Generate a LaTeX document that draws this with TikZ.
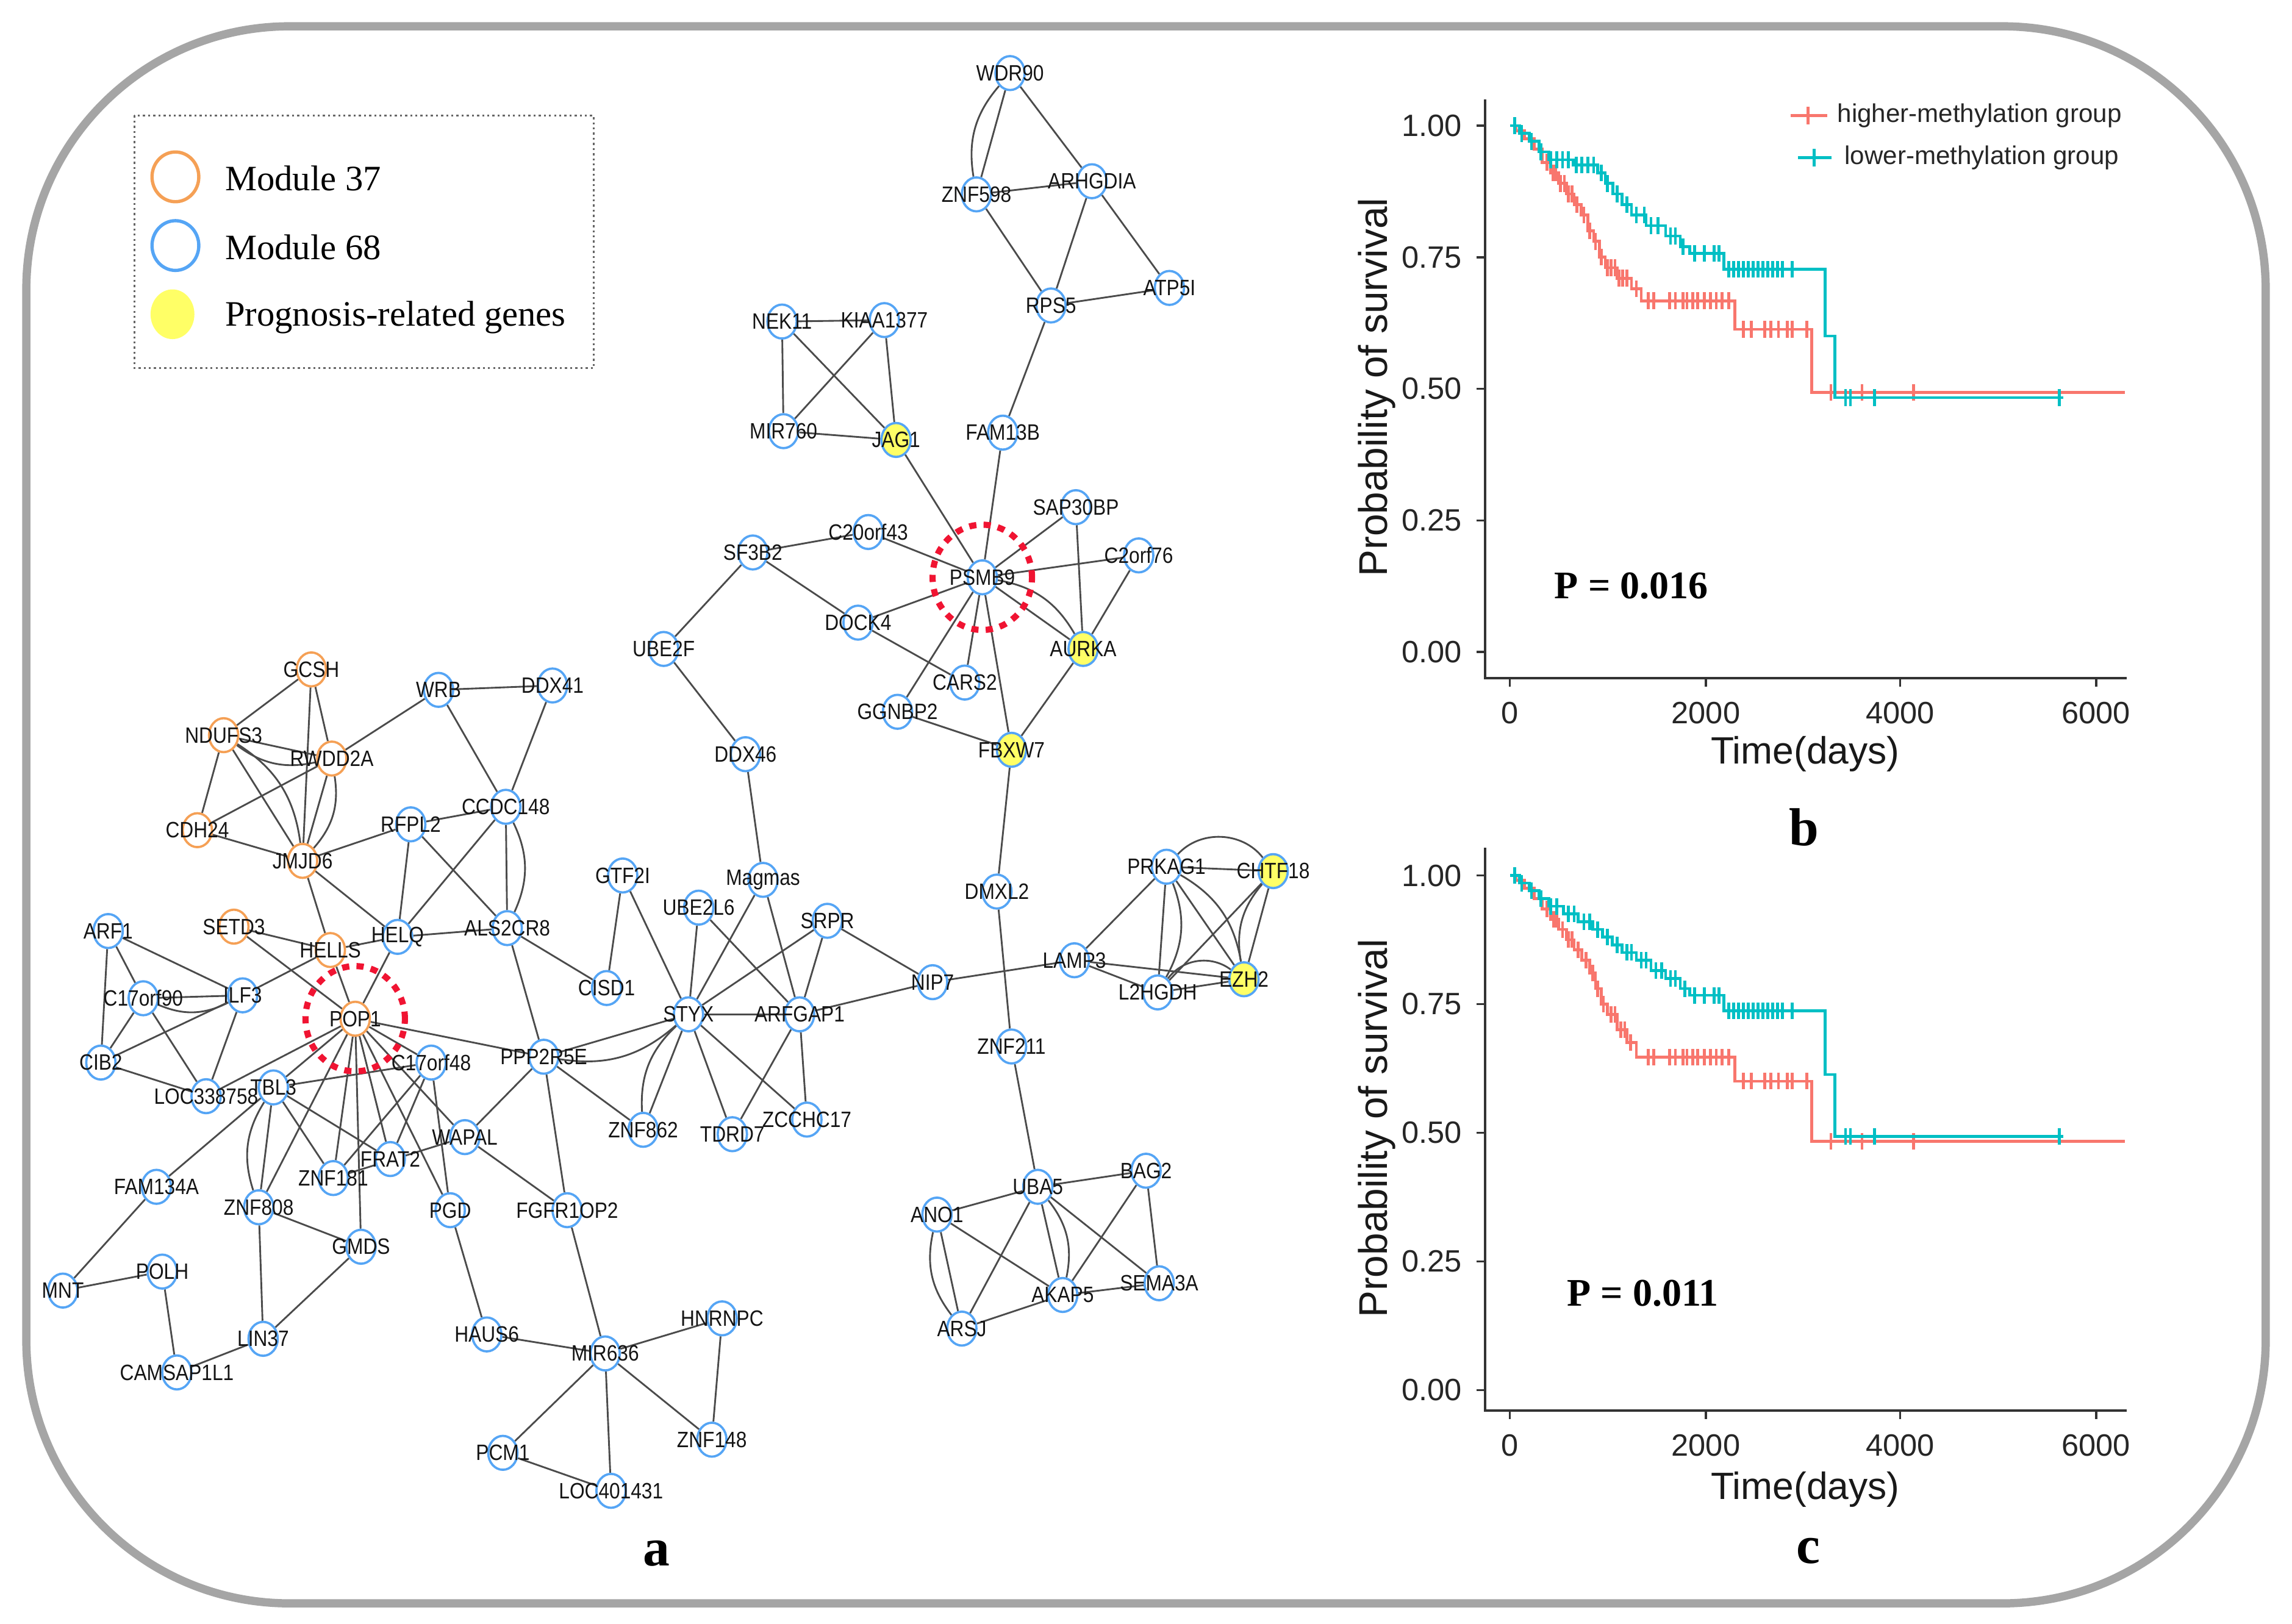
\documentclass[tikz,border=0pt]{standalone}
\usepackage{fontspec}
\setmainfont{Liberation Serif}
\newfontfamily\arial{Liberation Sans}
\usetikzlibrary{shapes.geometric}
\definecolor{nblue}{RGB}{85,165,245}
\definecolor{norange}{RGB}{245,160,85}
\definecolor{nyellow}{RGB}{255,255,102}
\definecolor{edgegray}{RGB}{75,75,75}
\definecolor{kmred}{RGB}{248,118,109}
\definecolor{kmteal}{RGB}{0,191,196}
\definecolor{framegray}{RGB}{165,165,165}
\definecolor{hubred}{RGB}{240,20,50}
\pgfdeclarelayer{bgzero}
\pgfdeclarelayer{edgelayer}
\pgfsetlayers{bgzero,edgelayer,main}
\tikzset{
 gene/.style={ellipse, draw=nblue, line width=1.1pt, fill=white, minimum width=0.5cm, minimum height=0.58cm, inner sep=0pt},
 m37/.style={draw=norange},
 prog/.style={fill=nyellow},
 lbl/.style={font=\arial\fontsize{9.4}{10}\selectfont, text=black!92, inner sep=0pt},
 edge/.style={draw=edgegray, line width=0.85pt},
 hub/.style={ellipse, draw=hubred, line width=3pt, dash pattern=on 3.5pt off 3.5pt, minimum width=1.7cm, minimum height=1.8cm, inner sep=0pt},
 axisline/.style={line width=1pt, black!80},
 tick/.style={font=\arial\fontsize{15}{16}\selectfont, text=black!85},
 km/.style={line width=1.4pt},
 legtext/.style={anchor=west, font=\fontsize{17.4}{20}\selectfont},
 paneltag/.style={font=\bfseries\fontsize{26}{28}\selectfont},
 pval/.style={font=\bfseries\fontsize{19}{21}\selectfont},
 axtitle/.style={font=\arial\fontsize{18.5}{20}\selectfont, text=black!90},
 kmleg/.style={anchor=west, font=\arial\fontsize{12.5}{14}\selectfont, text=black!85},
}
\newcommand\gn[3][]{\node[gene,#1,label={[lbl]center:\scalebox{1}[1.15]{#3}}] (#3) at (#2) {};}
\begin{document}
\begin{tikzpicture}[x=0.025cm,y=-0.025cm]
\useasboundingbox (0,0) rectangle (1568,1111);
\begin{pgfonlayer}{bgzero}
\fill[white] (0,0) rectangle (1568,1111);
\end{pgfonlayer}
\draw[framegray, line width=4pt, rounded corners=4.5cm] (18,18) rectangle (1550,1097);

% legend
\draw[black!60, line width=0.9pt, dash pattern=on 1pt off 1.5pt] (92,79) rectangle (406,252);
\node[ellipse, draw=norange, line width=1.6pt, minimum width=0.8cm, minimum height=0.85cm] (leg37) at (120,121) {};
\node[ellipse, draw=nblue, line width=1.6pt, minimum width=0.8cm, minimum height=0.85cm] (leg68) at (120,168) {};
\node[ellipse, fill=nyellow, minimum width=0.75cm, minimum height=0.85cm] (legprog) at (118,215) {};
\node[legtext] (legt37) at (149,122) {Module 37};
\node[legtext] (legt68) at (149,169) {Module 68};
\node[legtext] (legtprog) at (149,217) {Prognosis-related genes};

% genes: top
\gn{691,50}{WDR90}
\gn{668,133}{ZNF598}
\gn{747,124}{ARHGDIA}
\gn{719,209}{RPS5}
\gn{800,197}{ATP5I}
\gn{686,296}{FAM13B}
\gn{535,220}{NEK11}
\gn{605,219}{KIAA1377}
\gn{536,295}{MIR760}
\gn[prog]{613,301}{JAG1}
% PSMB9 cluster
\gn{672,395}{PSMB9}
\gn{736,347}{SAP30BP}
\gn{779,380}{C2orf76}
\gn{594,364}{C20orf43}
\gn{515,378}{SF3B2}
\gn{587,426}{DOCK4}
\gn{454,444}{UBE2F}
\gn[prog]{741,444}{AURKA}
\gn{660,467}{CARS2}
\gn{614,487}{GGNBP2}
\gn[prog]{692,513}{FBXW7}
\gn{510,516}{DDX46}
% left upper
\gn[m37]{213,458}{GCSH}
\gn[m37]{153,503}{NDUFS3}
\gn[m37]{227,519}{RWDD2A}
\gn{300,472}{WRB}
\gn{378,469}{DDX41}
\gn[m37]{135,568}{CDH24}
\gn[m37]{207,589}{JMJD6}
\gn{281,564}{RFPL2}
\gn{346,552}{CCDC148}
\gn{426,599}{GTF2I}
\gn[m37]{160,634}{SETD3}
\gn[m37]{226,650}{HELLS}
\gn{272,641}{HELQ}
\gn{347,635}{ALS2CR8}
\gn{415,676}{CISD1}
% POP1 cluster
\gn{74,637}{ARF1}
\gn{98,683}{C17orf90}
\gn{166,681}{ILF3}
\gn{69,727}{CIB2}
\gn{141,750}{LOC338758}
\gn[m37]{243,697}{POP1}
\gn{187,744}{TBL3}
\gn{295,727}{C17orf48}
\gn{372,723}{PPP2R5E}
\gn{318,778}{WAPAL}
\gn{267,793}{FRAT2}
\gn{228,806}{ZNF181}
\gn{107,812}{FAM134A}
\gn{177,826}{ZNF808}
\gn{247,853}{GMDS}
\gn{308,828}{PGD}
\gn{388,828}{FGFR1OP2}
\gn{43,883}{MNT}
\gn{111,870}{POLH}
\gn{180,916}{LIN37}
\gn{121,939}{CAMSAP1L1}
\gn{333,913}{HAUS6}
\gn{414,926}{MIR636}
\gn{494,902}{HNRNPC}
\gn{487,985}{ZNF148}
\gn{344,994}{PCM1}
\gn{418,1020}{LOC401431}
% STYX cluster
\gn{471,694}{STYX}
\gn{547,694}{ARFGAP1}
\gn{478,621}{UBE2L6}
\gn{522,602}{Magmas}
\gn{566,630}{SRPR}
\gn{638,672}{NIP7}
\gn{440,773}{ZNF862}
\gn{501,776}{TDRD7}
\gn{552,766}{ZCCHC17}
\gn{682,610}{DMXL2}
\gn{692,716}{ZNF211}
% right cluster
\gn{798,593}{PRKAG1}
\gn[prog]{871,596}{CHTF18}
\gn{735,657}{LAMP3}
\gn{792,679}{L2HGDH}
\gn[prog]{851,670}{EZH2}
% bottom right
\gn{710,812}{UBA5}
\gn{784,801}{BAG2}
\gn{641,831}{ANO1}
\gn{727,886}{AKAP5}
\gn{793,878}{SEMA3A}
\gn{658,909}{ARSJ}

\node[hub] (hubPSMB9) at (PSMB9) {};
\node[hub] (hubPOP1) at (POP1) {};

\begin{pgfonlayer}{edgelayer}
\foreach \a/\b in {WDR90/ZNF598, WDR90/ARHGDIA, ZNF598/ARHGDIA, ZNF598/RPS5, ARHGDIA/RPS5, ARHGDIA/ATP5I, RPS5/ATP5I, RPS5/FAM13B, FAM13B/PSMB9,
 NEK11/KIAA1377, NEK11/MIR760, NEK11/JAG1, KIAA1377/MIR760, KIAA1377/JAG1, MIR760/JAG1, JAG1/PSMB9,
 PSMB9/SAP30BP, PSMB9/C2orf76, PSMB9/C20orf43, PSMB9/DOCK4, PSMB9/AURKA, PSMB9/CARS2, PSMB9/GGNBP2, PSMB9/FBXW7,
 SAP30BP/AURKA, C2orf76/AURKA, AURKA/FBXW7, C20orf43/SF3B2, SF3B2/DOCK4, DOCK4/CARS2, SF3B2/UBE2F, UBE2F/DDX46, GGNBP2/FBXW7, FBXW7/DMXL2, DDX46/Magmas,
 GCSH/NDUFS3, GCSH/RWDD2A, GCSH/JMJD6, NDUFS3/RWDD2A, NDUFS3/CDH24, NDUFS3/JMJD6, RWDD2A/CDH24, RWDD2A/JMJD6, RWDD2A/WRB, WRB/DDX41, WRB/CCDC148, DDX41/CCDC148, CDH24/JMJD6, JMJD6/RFPL2, JMJD6/HELLS, JMJD6/HELQ, RFPL2/CCDC148, RFPL2/HELQ, RFPL2/ALS2CR8, CCDC148/HELQ, CCDC148/ALS2CR8, HELQ/ALS2CR8, HELLS/HELQ, SETD3/HELLS, SETD3/POP1, HELLS/POP1, HELQ/POP1, ALS2CR8/CISD1, ALS2CR8/PPP2R5E, GTF2I/CISD1, GTF2I/STYX,
 ARF1/C17orf90, ARF1/CIB2, ARF1/ILF3, C17orf90/ILF3, C17orf90/CIB2, C17orf90/LOC338758, ILF3/CIB2, ILF3/LOC338758, ILF3/HELLS, CIB2/LOC338758, LOC338758/POP1,
 POP1/TBL3, POP1/ZNF808, POP1/ZNF181, POP1/GMDS, POP1/FRAT2, POP1/PGD, POP1/WAPAL, POP1/C17orf48, POP1/PPP2R5E,
 TBL3/C17orf48, TBL3/ZNF808, TBL3/ZNF181, TBL3/FRAT2, TBL3/FAM134A, C17orf48/ZNF181, C17orf48/FRAT2, C17orf48/PGD, ZNF181/WAPAL, WAPAL/PPP2R5E, WAPAL/FGFR1OP2, PPP2R5E/STYX, PPP2R5E/ZNF862, PPP2R5E/FGFR1OP2,
 ZNF808/GMDS, ZNF808/LIN37, GMDS/LIN37, FAM134A/MNT, MNT/POLH, POLH/CAMSAP1L1, CAMSAP1L1/LIN37,
 PGD/HAUS6, HAUS6/MIR636, FGFR1OP2/MIR636, MIR636/HNRNPC, MIR636/PCM1, MIR636/LOC401431, MIR636/ZNF148, HNRNPC/ZNF148, PCM1/LOC401431,
 STYX/ARFGAP1, STYX/UBE2L6, STYX/Magmas, STYX/SRPR, STYX/ZNF862, STYX/TDRD7, STYX/ZCCHC17, UBE2L6/ARFGAP1, Magmas/ARFGAP1, SRPR/ARFGAP1, SRPR/NIP7, ARFGAP1/NIP7, ARFGAP1/TDRD7, ARFGAP1/ZCCHC17, NIP7/LAMP3, DMXL2/ZNF211, ZNF211/UBA5,
 PRKAG1/CHTF18, PRKAG1/LAMP3, PRKAG1/L2HGDH, PRKAG1/EZH2, LAMP3/L2HGDH, LAMP3/EZH2, L2HGDH/EZH2, CHTF18/L2HGDH, CHTF18/EZH2,
 UBA5/BAG2, UBA5/ANO1, UBA5/ARSJ, UBA5/AKAP5, UBA5/SEMA3A, BAG2/AKAP5, BAG2/SEMA3A, ANO1/ARSJ, ANO1/AKAP5, AKAP5/SEMA3A, ARSJ/AKAP5}
 \draw[edge] (\a) -- (\b);
\foreach \a/\b in {WDR90/ZNF598, NDUFS3/RWDD2A, C17orf90/ILF3, TBL3/ZNF808, PPP2R5E/STYX, STYX/ZNF862, CHTF18/EZH2, ANO1/ARSJ}
 \draw[edge] (\a) to[bend right=25] (\b);
\foreach \a/\b in {NDUFS3/JMJD6, RWDD2A/JMJD6, CCDC148/ALS2CR8, PRKAG1/L2HGDH, PRKAG1/EZH2, UBA5/AKAP5, PSMB9/AURKA}
 \draw[edge] (\a) to[bend left=25] (\b);
\draw[edge] (PRKAG1) to[bend left=50] (CHTF18);
\draw[edge] (L2HGDH) to[bend left=45] (EZH2);
\end{pgfonlayer}

% panel tags
\node[paneltag] (taga) at (449,1063) {a};
\node[paneltag] (tagb) at (1234,566) {b};
\node[paneltag] (tagc) at (1237,1061) {c};

% ---------- plot b ----------
\draw[axisline] (1016,68) -- (1016,464) -- (1455,464);
\foreach \yy/\lab in {86/1.00,176/0.75,266/0.50,356/0.25,446/0.00} {
 \draw[axisline] (1010,\yy) -- (1016,\yy);
 \node[tick, anchor=east] at (1005,\yy) {\lab};
}
\foreach \xx/\lab in {1033/0,1167/2000,1300/4000,1434/6000} {
 \draw[axisline] (\xx,464) -- (\xx,470);
 \node[tick] at (\xx,488) {\lab};
}
\node[axtitle] (xtb) at (1235,516) {Time(days)};
\node[axtitle, font=\arial\fontsize{19.5}{21}\selectfont, rotate=90] (ytb) at (942,265) {Probability of survival};
\node[pval] (pb) at (1116,401) {P = 0.016};
\draw[km,kmred] (1225,79) -- (1250,79);
\draw[km,kmred] (1237,73) -- (1237,85);
\node[kmleg] (lgh) at (1252,79) {higher-methylation group};
\draw[km,kmteal] (1230,108) -- (1253,108);
\draw[km,kmteal] (1241,102) -- (1241,114);
\node[kmleg] (lgl) at (1257,108) {lower-methylation group};
\begin{scope}[shift={(1033,446)}]
\begin{scope}[x=0.0016708cm, y=9cm]
\draw[km,kmred] (0,1) -- (60,1) -- (60,0.99) -- (150,0.99) -- (150,0.975) -- (250,0.975) -- (250,0.955) -- (330,0.955) -- (330,0.93) -- (420,0.93) -- (420,0.91) -- (500,0.91) -- (500,0.89) -- (580,0.89) -- (580,0.87) -- (660,0.87) -- (660,0.85) -- (730,0.85) -- (730,0.83) -- (800,0.83) -- (800,0.80) -- (860,0.80) -- (860,0.78) -- (920,0.78) -- (920,0.75) -- (980,0.75) -- (980,0.73) -- (1100,0.73) -- (1100,0.71) -- (1250,0.71) -- (1250,0.69) -- (1350,0.69) -- (1350,0.667) -- (2310,0.667) -- (2310,0.613) -- (3100,0.613) -- (3100,0.493) -- (6320,0.493);
\foreach \t/\p in {380/0.93,440/0.91,470/0.91,520/0.89,560/0.89,600/0.87,640/0.87,690/0.85,760/0.83,820/0.80,880/0.78,940/0.75,1000/0.73,1040/0.73,1080/0.73,1120/0.71,1160/0.71,1200/0.71,1300/0.69,1420/0.667,1480/0.667,1640/0.667,1700/0.667,1780/0.667,1820/0.667,1880/0.667,1930/0.667,2000/0.667,2060/0.667,2120/0.667,2180/0.667,2250/0.667,2400/0.613,2480/0.613,2620/0.613,2680/0.613,2760/0.613,2850/0.613,2900/0.613,3050/0.613,3300/0.493,3620/0.493,4150/0.493}
 \draw[km,kmred] (\t,{\p-0.016}) -- (\t,{\p+0.016});
\draw[km,kmteal] (0,1) -- (100,1) -- (100,0.985) -- (200,0.985) -- (200,0.97) -- (300,0.97) -- (300,0.95) -- (400,0.95) -- (400,0.935) -- (650,0.935) -- (650,0.925) -- (900,0.925) -- (900,0.91) -- (980,0.91) -- (980,0.89) -- (1060,0.89) -- (1060,0.87) -- (1150,0.87) -- (1150,0.85) -- (1250,0.85) -- (1250,0.83) -- (1400,0.83) -- (1400,0.81) -- (1600,0.81) -- (1600,0.79) -- (1750,0.79) -- (1750,0.77) -- (1850,0.77) -- (1850,0.757) -- (2200,0.757) -- (2200,0.727) -- (3240,0.727) -- (3240,0.60) -- (3340,0.60) -- (3340,0.483) -- (5690,0.483);
\foreach \t/\p in {50/1,120/0.985,220/0.97,320/0.95,420/0.935,480/0.935,540/0.935,600/0.935,680/0.925,740/0.925,800/0.925,860/0.925,940/0.91,1000/0.89,1100/0.87,1200/0.85,1300/0.83,1380/0.83,1450/0.81,1520/0.81,1650/0.79,1700/0.79,1780/0.77,1900/0.757,2000/0.757,2100/0.757,2150/0.757,2250/0.727,2300/0.727,2350/0.727,2400/0.727,2450/0.727,2500/0.727,2550/0.727,2600/0.727,2650/0.727,2700/0.727,2750/0.727,2800/0.727,2900/0.727,3450/0.483,3500/0.483,3750/0.483,5650/0.483}
 \draw[km,kmteal] (\t,{\p-0.016}) -- (\t,{\p+0.016});
\end{scope}
\end{scope}

% ---------- plot c ----------
\draw[axisline] (1016,580) -- (1016,965) -- (1455,965);
\foreach \yy/\lab in {599/1.00,687/0.75,775/0.50,863/0.25,951/0.00} {
 \draw[axisline] (1010,\yy) -- (1016,\yy);
 \node[tick, anchor=east] at (1005,\yy) {\lab};
}
\foreach \xx/\lab in {1033/0,1167/2000,1300/4000,1434/6000} {
 \draw[axisline] (\xx,965) -- (\xx,971);
 \node[tick] at (\xx,989) {\lab};
}
\node[axtitle] (xtc) at (1235,1019) {Time(days)};
\node[axtitle, font=\arial\fontsize{19.5}{21}\selectfont, rotate=90] (ytc) at (942,772) {Probability of survival};
\node[pval] (pc) at (1124,885) {P = 0.011};
\begin{scope}[shift={(1033,951)}]
\begin{scope}[x=0.0016708cm, y=8.8cm]
\draw[km,kmred] (0,1) -- (60,1) -- (60,0.99) -- (150,0.99) -- (150,0.975) -- (250,0.975) -- (250,0.955) -- (330,0.955) -- (330,0.935) -- (420,0.935) -- (420,0.915) -- (500,0.915) -- (500,0.895) -- (580,0.895) -- (580,0.875) -- (660,0.875) -- (660,0.855) -- (740,0.855) -- (740,0.835) -- (820,0.835) -- (820,0.81) -- (880,0.81) -- (880,0.78) -- (940,0.78) -- (940,0.75) -- (1000,0.75) -- (1000,0.73) -- (1100,0.73) -- (1100,0.70) -- (1200,0.70) -- (1200,0.675) -- (1300,0.675) -- (1300,0.647) -- (2310,0.647) -- (2310,0.60) -- (3100,0.60) -- (3100,0.483) -- (6320,0.483);
\foreach \t/\p in {380/0.935,450/0.915,480/0.915,540/0.895,600/0.875,640/0.875,700/0.855,780/0.835,850/0.81,900/0.78,960/0.75,1040/0.73,1080/0.73,1140/0.70,1180/0.70,1240/0.675,1420/0.647,1480/0.647,1640/0.647,1700/0.647,1780/0.647,1820/0.647,1880/0.647,1930/0.647,2000/0.647,2060/0.647,2120/0.647,2180/0.647,2250/0.647,2400/0.60,2480/0.60,2620/0.60,2680/0.60,2760/0.60,2850/0.60,2900/0.60,3050/0.60,3300/0.483,3620/0.483,4150/0.483}
 \draw[km,kmred] (\t,{\p-0.016}) -- (\t,{\p+0.016});
\draw[km,kmteal] (0,1) -- (100,1) -- (100,0.985) -- (200,0.985) -- (200,0.97) -- (300,0.97) -- (300,0.955) -- (400,0.955) -- (400,0.94) -- (550,0.94) -- (550,0.925) -- (700,0.925) -- (700,0.91) -- (850,0.91) -- (850,0.895) -- (950,0.895) -- (950,0.88) -- (1050,0.88) -- (1050,0.865) -- (1150,0.865) -- (1150,0.85) -- (1300,0.85) -- (1300,0.835) -- (1450,0.835) -- (1450,0.815) -- (1600,0.815) -- (1600,0.80) -- (1750,0.80) -- (1750,0.78) -- (1850,0.78) -- (1850,0.767) -- (2200,0.767) -- (2200,0.737) -- (3240,0.737) -- (3240,0.613) -- (3340,0.613) -- (3340,0.493) -- (5690,0.493);
\foreach \t/\p in {50/1,120/0.985,220/0.97,320/0.955,420/0.94,480/0.94,600/0.925,660/0.925,760/0.91,820/0.91,900/0.895,1000/0.88,1100/0.865,1200/0.85,1250/0.85,1350/0.835,1400/0.835,1500/0.815,1560/0.815,1650/0.80,1700/0.80,1800/0.78,1900/0.767,2000/0.767,2100/0.767,2150/0.767,2250/0.737,2300/0.737,2350/0.737,2400/0.737,2450/0.737,2500/0.737,2550/0.737,2600/0.737,2650/0.737,2700/0.737,2750/0.737,2800/0.737,2900/0.737,3450/0.493,3500/0.493,3750/0.493,5650/0.493}
 \draw[km,kmteal] (\t,{\p-0.016}) -- (\t,{\p+0.016});
\end{scope}
\end{scope}
\end{tikzpicture}
\end{document}
